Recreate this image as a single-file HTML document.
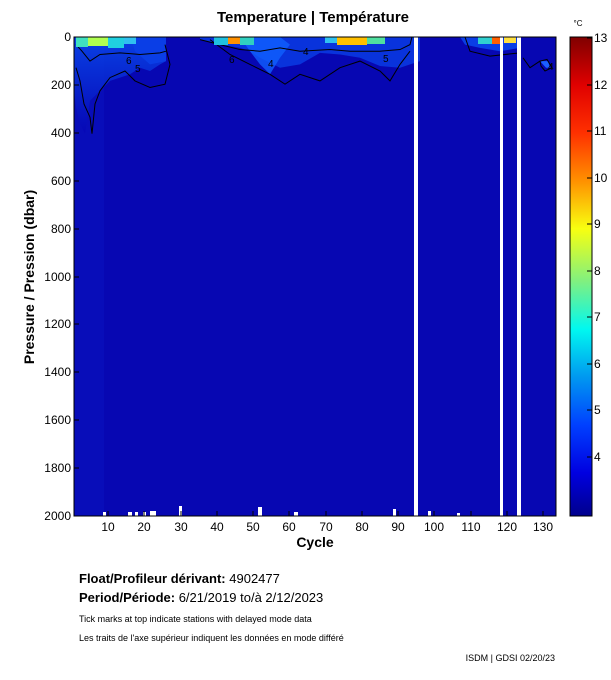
<!DOCTYPE html>
<html><head><meta charset="utf-8"><style>
body{margin:0;background:#fff;width:611px;height:675px;overflow:hidden;font-family:"Liberation Sans",sans-serif}
</style></head><body>
<svg width="611" height="675" xmlns="http://www.w3.org/2000/svg" font-family="Liberation Sans, sans-serif">
<defs>
<linearGradient id="cb" x1="0" y1="1" x2="0" y2="0">
<stop offset="0" stop-color="#00008c"/>
<stop offset="0.09" stop-color="#0000e0"/>
<stop offset="0.19" stop-color="#0040ff"/>
<stop offset="0.29" stop-color="#0098f0"/>
<stop offset="0.39" stop-color="#00f8f0"/>
<stop offset="0.49" stop-color="#80f080"/>
<stop offset="0.6" stop-color="#f8ff10"/>
<stop offset="0.7" stop-color="#ff9000"/>
<stop offset="0.8" stop-color="#ff3000"/>
<stop offset="0.9" stop-color="#e00000"/>
<stop offset="1" stop-color="#800000"/>
</linearGradient>
<linearGradient id="top" x1="0" y1="0" x2="0" y2="1">
<stop offset="0" stop-color="#0a4ef0"/>
<stop offset="1" stop-color="#0505b4"/>
</linearGradient>
</defs>
<text x="313" y="22" font-size="15" font-weight="bold" text-anchor="middle">Temperature | Température</text>
<text x="578" y="26" font-size="8" text-anchor="middle">°C</text>
<!-- plot -->
<rect x="74" y="37" width="482" height="479" fill="#0707b2"/>
<rect x="74" y="37" width="30" height="479" fill="#0810bc" opacity="0.7"/>
<g transform="matrix(1,0,0,0.33,0,24.8)">
<path d="M74,37 L166,37 L166,110 L160,120 L150,140 L140,130 L130,150 L110,170 L100,200 L90,230 L85,330 L80,300 L76,250 L74,200Z" fill="url(#top)" opacity="0.8"/>
<path d="M130,37 L166,37 L166,110 L150,120 L135,80Z" fill="#0a3ee6"/>
<path d="M200,37 L420,37 L420,110 L400,130 L380,125 L360,100 L340,90 L320,85 L300,120 L280,130 L260,100 L250,80 L240,70 L220,60 L200,45Z" fill="#0a3ee6" opacity="0.8"/>
<path d="M240,37 L280,37 L290,60 L280,100 L270,150 L260,120 L250,80Z" fill="#1060ff" opacity="0.8"/>
<path d="M460,37 L520,37 L520,70 L500,80 L480,70 L465,60Z" fill="#0a3ee6"/>
<path d="M540,110 L548,110 L550,130 L546,130Z" fill="#1a60ff"/>
<g fill="none" stroke="#000" stroke-width="1">
<path vector-effect="non-scaling-stroke" d="M76,60 L82,80 L90,110 L100,90 L120,85 L140,90 L160,85 L166,80"/>
<path vector-effect="non-scaling-stroke" d="M76,130 L80,170 L84,240 L90,280 L92,330 L95,240 L100,200 L110,160 L125,140 L135,170 L150,190 L165,180 L170,120 L165,60"/>
<path vector-effect="non-scaling-stroke" d="M200,45 L220,60 L240,75 L260,80 L280,70 L300,80 L330,75 L350,80 L380,80 L400,75 L410,60 L412,37"/>
<path vector-effect="non-scaling-stroke" d="M210,45 L230,90 L250,120 L270,150 L285,180 L300,150 L320,170 L340,130 L360,110 L380,140 L390,170 L400,120 L410,80"/>
<path vector-effect="non-scaling-stroke" d="M465,37 L470,80 L490,95 L520,85"/>
<path vector-effect="non-scaling-stroke" d="M523,100 L530,130 L540,110"/>
<path vector-effect="non-scaling-stroke" d="M540,110 L547,105 L552,130 L545,140 L541,125Z"/>
</g>
</g>
<!-- warm top patches -->
<rect x="76" y="37" width="12" height="10" fill="#40e0c0"/>
<rect x="88" y="37" width="20" height="9" fill="#b0ff50"/>
<rect x="108" y="37" width="16" height="11" fill="#20d0e0"/>
<rect x="124" y="37" width="12" height="7" fill="#30c0f0"/>
<rect x="214" y="37" width="14" height="8" fill="#20c0e0"/>
<rect x="228" y="37" width="12" height="7" fill="#ff9000"/>
<rect x="240" y="37" width="14" height="8" fill="#30d0c0"/>
<rect x="325" y="37" width="12" height="6" fill="#30c0f0"/>
<rect x="337" y="37" width="30" height="8" fill="#ffc000"/>
<rect x="367" y="37" width="18" height="7" fill="#50e0a0"/>
<rect x="478" y="37" width="14" height="7" fill="#30d0d0"/>
<rect x="492" y="37" width="8" height="7" fill="#ff6000"/>
<rect x="504" y="37" width="12" height="6" fill="#ffe040"/>
<g font-size="10" fill="#000"><text x="126" y="64">6</text><text x="135" y="72">5</text><text x="229" y="63">6</text><text x="268" y="67">4</text><text x="303" y="55">4</text><text x="383" y="62">5</text><text x="548" y="70">4</text></g>
<!-- gaps -->
<rect x="414" y="37" width="4" height="479" fill="#fff"/>
<rect x="500" y="37" width="3" height="479" fill="#fff"/>
<rect x="517" y="37" width="4" height="479" fill="#fff"/>
<g fill="#fff">
<rect x="103" y="512" width="3" height="4"/><rect x="128" y="512" width="4" height="4"/><rect x="135" y="512" width="3" height="4"/>
<rect x="143" y="512" width="3" height="4"/><rect x="150" y="511" width="6" height="5"/><rect x="179" y="506" width="3" height="10"/>
<rect x="258" y="507" width="4" height="9"/><rect x="294" y="512" width="4" height="4"/><rect x="393" y="509" width="3" height="7"/>
<rect x="428" y="511" width="3" height="5"/><rect x="457" y="513" width="3" height="3"/>
</g>
<rect x="74" y="37" width="482" height="479" fill="none" stroke="#000"/>
<g stroke="#000">
<path d="M108,516v-5M144,516v-5M181,516v-5M217,516v-5M253,516v-5M289,516v-5M326,516v-5M362,516v-5M398,516v-5M434,516v-5M471,516v-5M507,516v-5M543,516v-5"/>
<path d="M74,85h5M74,133h5M74,181h5M74,229h5M74,277h5M74,324h5M74,372h5M74,420h5M74,468h5"/>
</g>
<g font-size="12" text-anchor="middle">
<text x="108" y="531">10</text><text x="144" y="531">20</text><text x="181" y="531">30</text><text x="217" y="531">40</text><text x="253" y="531">50</text><text x="289" y="531">60</text><text x="326" y="531">70</text><text x="362" y="531">80</text><text x="398" y="531">90</text><text x="434" y="531">100</text><text x="471" y="531">110</text><text x="507" y="531">120</text><text x="543" y="531">130</text>
</g>
<g font-size="12" text-anchor="end">
<text x="71" y="41">0</text><text x="71" y="89">200</text><text x="71" y="137">400</text><text x="71" y="185">600</text><text x="71" y="233">800</text><text x="71" y="281">1000</text><text x="71" y="328">1200</text><text x="71" y="376">1400</text><text x="71" y="424">1600</text><text x="71" y="472">1800</text><text x="71" y="520">2000</text>
</g>
<text x="315" y="547" font-size="14" font-weight="bold" text-anchor="middle">Cycle</text>
<text transform="translate(34,277) rotate(-90)" font-size="14" font-weight="bold" text-anchor="middle">Pressure / Pression (dbar)</text>
<!-- colorbar -->
<rect x="570" y="37" width="22" height="479" fill="url(#cb)" stroke="#000"/>
<g font-size="12">
<text x="594" y="42">13</text><text x="594" y="89">12</text><text x="594" y="135">11</text><text x="594" y="182">10</text><text x="594" y="228">9</text><text x="594" y="275">8</text><text x="594" y="321">7</text><text x="594" y="368">6</text><text x="594" y="414">5</text><text x="594" y="461">4</text>
</g>
<g stroke="#000"><path d="M587,38h5M587,85h5M587,131h5M587,178h5M587,224h5M587,271h5M587,317h5M587,364h5M587,410h5M587,457h5"/></g>
<!-- footer -->
<text x="79" y="583" font-size="13"><tspan font-weight="bold">Float/Profileur dérivant:</tspan> 4902477</text>
<text x="79" y="602" font-size="13"><tspan font-weight="bold">Period/Période:</tspan> 6/21/2019  to/à  2/12/2023</text>
<text x="79" y="622" font-size="9">Tick marks at top indicate stations with delayed mode data</text>
<text x="79" y="641" font-size="9">Les traits de l'axe supérieur indiquent les données en mode différé</text>
<text x="555" y="661" font-size="9" text-anchor="end">ISDM | GDSI  02/20/23</text>
</svg>
</body></html>
